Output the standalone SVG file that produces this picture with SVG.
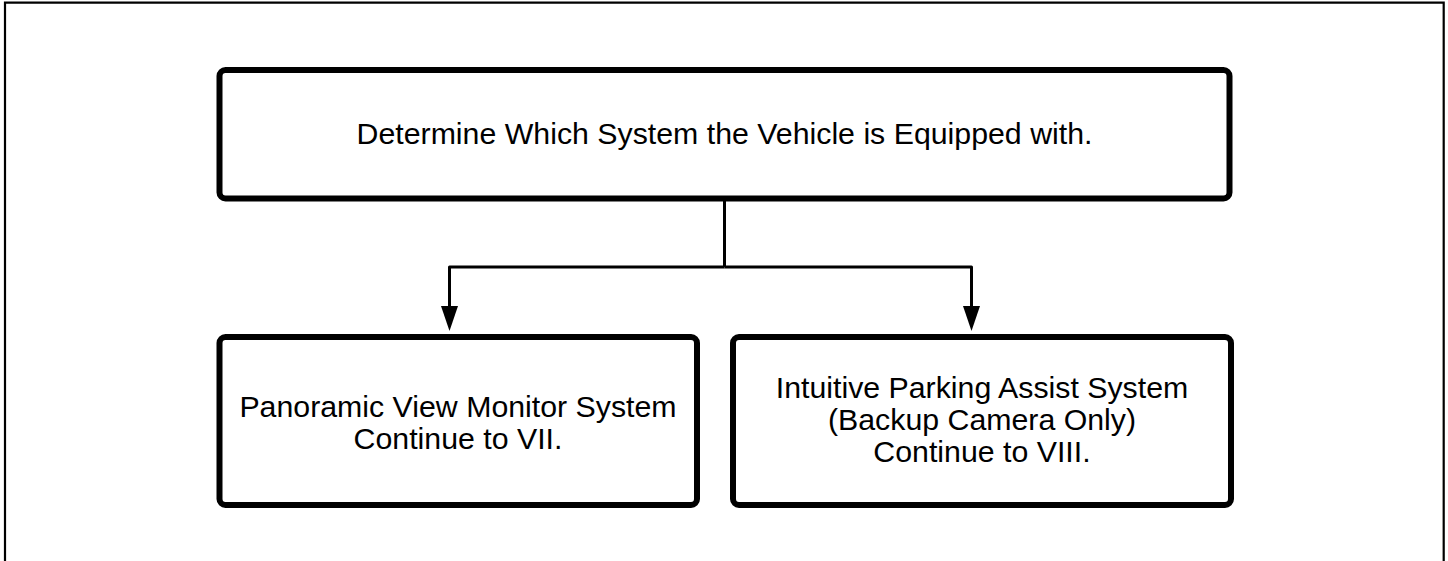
<svg xmlns="http://www.w3.org/2000/svg" width="1448" height="561" viewBox="0 0 1448 561">
  <style>
    .box { fill: #ffffff; stroke: #000000; stroke-width: 6; }
    .lbl { font-family: "Liberation Sans", Arial, sans-serif; font-size: 30.3px; fill: #000000; text-anchor: middle; }
    .conn { fill: none; stroke: #000000; stroke-width: 3; stroke-linejoin: round; }
    .frame { fill: none; stroke: #000000; stroke-width: 2.2; }
    .head { fill: #000000; }
  </style>
  <rect width="1448" height="561" fill="#ffffff"/>
  <path class="frame" d="M5,561 L5,2.7 L1443.7,2.7 L1443.7,561"/>
  <g id="connectors">
    <path class="conn" d="M724.5,199 L724.5,267"/>
    <path class="conn" d="M724.5,267 L449.5,267 L449.5,306"/>
    <path class="conn" d="M724.5,267 L971.5,267 L971.5,306"/>
    <path class="head" d="M441,306 L458,306 L449.5,331 Z"/>
    <path class="head" d="M963,306 L980,306 L971.5,331 Z"/>
  </g>
  <g id="node-determine">
    <rect class="box" x="219.5" y="70" width="1010" height="128.5" rx="6"/>
    <text class="lbl" x="724.5" y="144">Determine Which System the Vehicle is Equipped with.</text>
  </g>
  <g id="node-panoramic">
    <rect class="box" x="219.5" y="337" width="477.5" height="168" rx="6"/>
    <text class="lbl" x="458" y="417">Panoramic View Monitor System</text>
    <text class="lbl" x="458" y="449">Continue to VII.</text>
  </g>
  <g id="node-parking">
    <rect class="box" x="733" y="337" width="498" height="168" rx="6"/>
    <text class="lbl" x="982" y="398">Intuitive Parking Assist System</text>
    <text class="lbl" x="982" y="430">(Backup Camera Only)</text>
    <text class="lbl" x="982" y="462">Continue to VIII.</text>
  </g>
</svg>
